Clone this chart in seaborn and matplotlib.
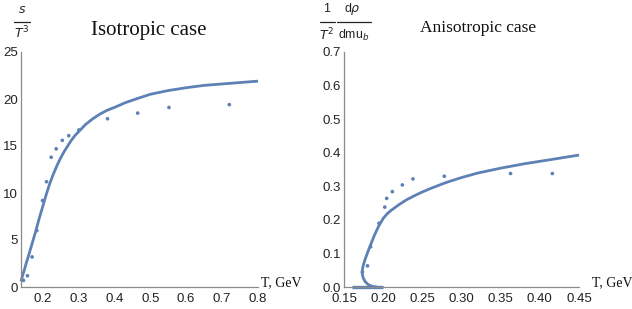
import matplotlib
matplotlib.use("Agg")
import matplotlib.pyplot as plt
from matplotlib.lines import Line2D
from matplotlib.ticker import MultipleLocator, FixedLocator
import seaborn as sns
import pandas as pd

# ---- data: isotropic case ----
iso_curve_T = [0.14, 0.145, 0.15, 0.155, 0.16, 0.17, 0.18, 0.19, 0.20, 0.21,
               0.22, 0.23, 0.24, 0.25, 0.26, 0.27, 0.28, 0.29, 0.30, 0.32,
               0.34, 0.36, 0.38, 0.40, 0.43, 0.46, 0.50, 0.55, 0.60, 0.65,
               0.70, 0.75, 0.80]
iso_curve_s = [0.6, 1.3, 1.9, 2.6, 3.2, 4.5, 5.8, 7.2, 8.5, 9.8,
               11.0, 12.0, 12.9, 13.7, 14.4, 15.0, 15.6, 16.1, 16.5, 17.3,
               17.9, 18.4, 18.8, 19.1, 19.6, 20.0, 20.5, 20.9, 21.2, 21.45,
               21.6, 21.75, 21.9]
iso_pts_T = [0.147, 0.158, 0.171, 0.184, 0.200, 0.211, 0.224, 0.238, 0.255,
             0.273, 0.301, 0.381, 0.465, 0.552, 0.720]
iso_pts_s = [0.7, 1.2, 3.2, 6.0, 9.2, 11.2, 13.8, 14.7, 15.6, 16.1, 16.7,
             17.9, 18.5, 19.1, 19.4]

# ---- data: anisotropic case ----
ani_curve_T = [0.192, 0.186, 0.181, 0.177, 0.1745, 0.1732, 0.1735, 0.175, 0.1775,
               0.181, 0.185, 0.189, 0.194, 0.200, 0.205, 0.210, 0.220, 0.230,
               0.240, 0.250, 0.260, 0.280, 0.300, 0.320, 0.350, 0.380, 0.410,
               0.450]
ani_curve_y = [0.000, 0.002, 0.007, 0.016, 0.027, 0.040, 0.053, 0.068, 0.086,
               0.108, 0.132, 0.155, 0.180, 0.204, 0.218, 0.228, 0.245, 0.260,
               0.272, 0.283, 0.293, 0.311, 0.326, 0.339, 0.354, 0.367, 0.378,
               0.393]
ani_flat_T = [0.160, 0.200]
ani_flat_y = [0.0, 0.0]
ani_pts_T = [0.1735, 0.180, 0.184, 0.1946, 0.202, 0.2045, 0.2117, 0.2245,
             0.238, 0.278, 0.3626, 0.416]
ani_pts_y = [0.045, 0.063, 0.120, 0.190, 0.238, 0.264, 0.284, 0.304,
             0.322, 0.330, 0.338, 0.338]

sns.set_theme(style="white")
plt.rcParams['font.family'] = ['Liberation Sans', 'DejaVu Sans']

LINE = "#5E81B5"
AXC = "#8a8a8a"
TXT = "#222222"

fig = plt.figure(figsize=(6.32, 3.09), dpi=100)
W, H = 632, 309

def ax_rect(x0, x1, y0, y1):
    return [x0 / W, (H - y1) / H, (x1 - x0) / W, (y1 - y0) / H]

ax1 = fig.add_axes(ax_rect(21, 258, 52, 287))
ax2 = fig.add_axes(ax_rect(344, 579, 52, 287))

for ax in (ax1, ax2):
    ax.set_facecolor("white")
    for s in ("top", "right"):
        ax.spines[s].set_visible(False)
    for s in ("left", "bottom"):
        ax.spines[s].set_color(AXC)
        ax.spines[s].set_linewidth(0.9)
    ax.tick_params(which="both", direction="in", colors=AXC, labelcolor=TXT,
                   labelsize=9.5, width=0.8, pad=2)
    ax.tick_params(axis="x", pad=4.5)
    ax.tick_params(which="major", length=4.5)
    ax.tick_params(which="minor", length=2.5)
    ax.grid(False)

# left panel
df_ic = pd.DataFrame({"T": iso_curve_T, "s": iso_curve_s})
df_ip = pd.DataFrame({"T": iso_pts_T, "s": iso_pts_s})
sns.lineplot(data=df_ic, x="T", y="s", ax=ax1, color=LINE, linewidth=2.0,
             estimator=None, sort=True)
sns.scatterplot(data=df_ip, x="T", y="s", ax=ax1, color=LINE, s=7,
                edgecolor="none", zorder=3)
ax1.set_xlim(0.14, 0.8)
ax1.set_ylim(0, 25)
ax1.xaxis.set_major_locator(FixedLocator([0.2, 0.3, 0.4, 0.5, 0.6, 0.7, 0.8]))
ax1.xaxis.set_minor_locator(MultipleLocator(0.02))
ax1.yaxis.set_major_locator(MultipleLocator(5))
ax1.yaxis.set_minor_locator(MultipleLocator(1))
ax1.set_xticklabels(["0.2", "0.3", "0.4", "0.5", "0.6", "0.7", "0.8"])
ax1.set_yticks([0, 5, 10, 15, 20, 25])
ax1.set_yticklabels(["0", "5", "10", "15", "20", "25"])
ax1.set_xlabel("")
ax1.set_ylabel("")

# right panel
df_ac = pd.DataFrame({"T": ani_curve_T, "y": ani_curve_y})
df_af = pd.DataFrame({"T": ani_flat_T, "y": ani_flat_y})
df_ap = pd.DataFrame({"T": ani_pts_T, "y": ani_pts_y})
sns.lineplot(data=df_ac, x="T", y="y", ax=ax2, color=LINE, linewidth=2.0,
             estimator=None, sort=False)
sns.lineplot(data=df_af, x="T", y="y", ax=ax2, color=LINE, linewidth=2.4,
             estimator=None, sort=False)
sns.scatterplot(data=df_ap, x="T", y="y", ax=ax2, color=LINE, s=7,
                edgecolor="none", zorder=3)
ax2.set_xlim(0.15, 0.45)
ax2.set_ylim(0, 0.7)
ax2.set_xticks([0.15, 0.20, 0.25, 0.30, 0.35, 0.40, 0.45])
ax2.set_xticklabels(["0.15", "0.20", "0.25", "0.30", "0.35", "0.40", "0.45"])
ax2.xaxis.set_minor_locator(MultipleLocator(0.01))
ax2.set_yticks([0.0, 0.1, 0.2, 0.3, 0.4, 0.5, 0.6, 0.7])
ax2.set_yticklabels(["0.0", "0.1", "0.2", "0.3", "0.4", "0.5", "0.6", "0.7"])
ax2.yaxis.set_minor_locator(MultipleLocator(0.02))
ax2.set_xlabel("")
ax2.set_ylabel("")
for ax in (ax1, ax2):
    for ln in ax.get_lines():
        ln.set_clip_on(False)
        ln.set_solid_capstyle("butt")
        ln.set_solid_joinstyle("round")

def fx(px):
    return px / W

def fy(py):
    return (H - py) / H

serif = ['Liberation Serif', 'DejaVu Serif']

# titles
fig.text(fx(149), fy(31), "Isotropic case", family=serif, fontsize=15,
         ha="center", va="center", color="#111111")
fig.text(fx(478), fy(28), "Anisotropic case", family=serif, fontsize=12.5,
         ha="center", va="center", color="#111111")

# x-axis labels
fig.text(fx(261), fy(283), "T, GeV", family=serif, fontsize=10,
         ha="left", va="center", color="#111111")
fig.text(fx(592), fy(283), "T, GeV", family=serif, fontsize=10,
         ha="left", va="center", color="#111111")

# left y label: s / T^3
fig.text(fx(22), fy(10), "$s$", fontsize=9, ha="center", va="center", color=TXT)
fig.add_artist(Line2D([fx(14), fx(30)], [fy(22), fy(22)], color=TXT, lw=0.9))
fig.text(fx(22), fy(33), "$T^3$", fontsize=9, ha="center", va="center", color=TXT)

# right y label: (1/T^2)(d rho / d mu_b)
fig.text(fx(327), fy(9), "1", fontsize=9, ha="center", va="center", color=TXT)
fig.text(fx(352), fy(9), "d$\\rho$", fontsize=9, ha="center", va="center", color=TXT)
fig.add_artist(Line2D([fx(320), fx(335)], [fy(22), fy(22)], color=TXT, lw=0.9))
fig.add_artist(Line2D([fx(337), fx(371)], [fy(22), fy(22)], color=TXT, lw=0.9))
fig.text(fx(327), fy(35), "$T^2$", fontsize=9, ha="center", va="center", color=TXT)
fig.text(fx(354), fy(35), "dmu$_b$", fontsize=9, ha="center", va="center", color=TXT)

fig.savefig("out.png", dpi=100, facecolor="white")
